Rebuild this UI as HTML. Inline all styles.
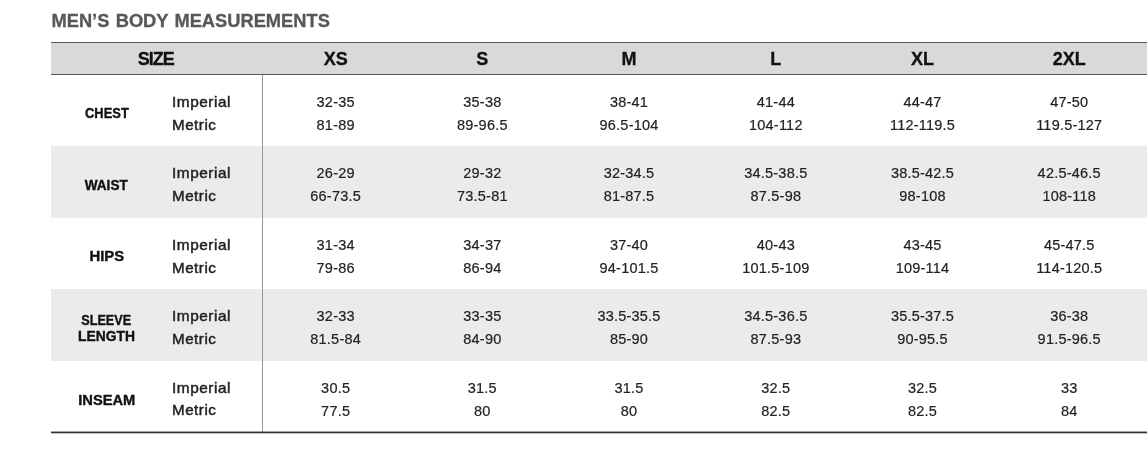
<!DOCTYPE html>
<html><head><meta charset="utf-8"><title>Men's Body Measurements</title>
<style>
html,body{margin:0;padding:0;background:#fff;}
body{width:1147px;height:454px;overflow:hidden;position:relative;font-family:"Liberation Sans",sans-serif;color:#222;}
.title{-webkit-text-stroke:0.3px #585858;word-spacing:1.2px;position:absolute;left:51.5px;top:9.5px;font-size:18.3px;font-weight:bold;color:#585858;line-height:22px;white-space:nowrap;letter-spacing:0.0px;}
.hdr{position:absolute;left:51px;top:42px;width:1100px;height:31px;background:#d9d9d9;border-top:1px solid #555;border-bottom:1px solid #555;}
.hdr div{-webkit-text-stroke:0.3px #111;position:absolute;top:1px;height:31px;line-height:31px;font-weight:bold;font-size:18px;color:#111;text-align:center;}
.hdr .sz{letter-spacing:-1px;}
.row{position:absolute;left:51px;width:1100px;height:71.4px;}
.row.g{background:#ebebeb;}
.lab{-webkit-text-stroke:0.4px #111;position:absolute;left:0.5px;width:110px;top:3.1px;height:71.4px;display:flex;flex-direction:column;align-items:center;justify-content:center;text-align:center;font-weight:bold;font-size:15.3px;line-height:16px;color:#111;}
.lab span{display:block;transform-origin:50% 50%;white-space:nowrap;}
.unit{-webkit-text-stroke:0.45px #222;position:absolute;left:121px;top:16px;font-size:14.5px;line-height:22.7px;color:#222;}
.unit span{display:block;transform-origin:0 50%;white-space:nowrap;letter-spacing:0.5px;}
.val{-webkit-text-stroke:0.2px #222;position:absolute;top:16px;width:146.72px;text-align:center;font-size:14.5px;line-height:23px;color:#222;letter-spacing:0.22px;}
.vline{position:absolute;left:262px;top:75px;width:1px;height:357px;background:#969696;}
.bline{position:absolute;left:51px;top:431px;width:1100px;height:3px;background:linear-gradient(to bottom,rgba(51,51,51,0.45) 0,rgba(51,51,51,0.45) 1px,#333 1px,#333 2px,rgba(51,51,51,0.3) 2px,rgba(51,51,51,0.3) 3px);}
.wrap{position:absolute;left:0;top:0;width:1147px;height:454px;will-change:transform;}
</style></head><body><div class="wrap">
<div class="title">MEN’S BODY MEASUREMENTS</div>
<div class="hdr"><div class="sz" style="left:-0.8px;width:211px">SIZE</div><div style="left:211.3px;width:146.72px">XS</div><div style="left:358.0px;width:146.72px">S</div><div style="left:504.7px;width:146.72px">M</div><div style="left:651.5px;width:146.72px">L</div><div style="left:798.2px;width:146.72px">XL</div><div style="left:944.9px;width:146.72px">2XL</div></div>
<div class="row" style="top:75.0px"><div class="lab" style="margin-top:-0.7px"><span style="transform:scaleX(0.845)">CHEST</span></div><div class="unit"><span style="transform:scaleX(1.06);margin-left:-0.3px">Imperial</span><span style="transform:scaleX(1.045);margin-left:-0.3px">Metric</span></div><div class="val" style="left:211.3px">32-35<br>81-89</div><div class="val" style="left:358.0px">35-38<br>89-96.5</div><div class="val" style="left:504.7px">38-41<br>96.5-104</div><div class="val" style="left:651.5px">41-44<br>104-112</div><div class="val" style="left:798.2px">44-47<br>112-119.5</div><div class="val" style="left:944.9px">47-50<br>119.5-127</div></div>
<div class="row g" style="top:146.4px"><div class="lab" style="margin-top:0px"><span style="transform:scaleX(0.89)">WAIST</span></div><div class="unit"><span style="transform:scaleX(1.06);margin-left:-0.3px">Imperial</span><span style="transform:scaleX(1.045);margin-left:-0.3px">Metric</span></div><div class="val" style="left:211.3px">26-29<br>66-73.5</div><div class="val" style="left:358.0px">29-32<br>73.5-81</div><div class="val" style="left:504.7px">32-34.5<br>81-87.5</div><div class="val" style="left:651.5px">34.5-38.5<br>87.5-98</div><div class="val" style="left:798.2px">38.5-42.5<br>98-108</div><div class="val" style="left:944.9px">42.5-46.5<br>108-118</div></div>
<div class="row" style="top:217.8px"><div class="lab" style="margin-top:-0.3px"><span style="transform:scaleX(0.97)">HIPS</span></div><div class="unit"><span style="transform:scaleX(1.06);margin-left:-0.3px">Imperial</span><span style="transform:scaleX(1.045);margin-left:-0.3px">Metric</span></div><div class="val" style="left:211.3px">31-34<br>79-86</div><div class="val" style="left:358.0px">34-37<br>86-94</div><div class="val" style="left:504.7px">37-40<br>94-101.5</div><div class="val" style="left:651.5px">40-43<br>101.5-109</div><div class="val" style="left:798.2px">43-45<br>109-114</div><div class="val" style="left:944.9px">45-47.5<br>114-120.5</div></div>
<div class="row g" style="top:289.2px"><div class="lab" style="margin-top:0px"><span style="transform:scaleX(0.824)">SLEEVE</span><span style="transform:scaleX(0.906)">LENGTH</span></div><div class="unit"><span style="transform:scaleX(1.06);margin-left:-0.3px">Imperial</span><span style="transform:scaleX(1.045);margin-left:-0.3px">Metric</span></div><div class="val" style="left:211.3px">32-33<br>81.5-84</div><div class="val" style="left:358.0px">33-35<br>84-90</div><div class="val" style="left:504.7px">33.5-35.5<br>85-90</div><div class="val" style="left:651.5px">34.5-36.5<br>87.5-93</div><div class="val" style="left:798.2px">35.5-37.5<br>90-95.5</div><div class="val" style="left:944.9px">36-38<br>91.5-96.5</div></div>
<div class="row" style="top:360.6px"><div class="lab" style="margin-top:0.9px"><span style="transform:scaleX(0.96)">INSEAM</span></div><div class="unit"><span style="transform:scaleX(1.06);margin-left:-0.3px">Imperial</span><span style="transform:scaleX(1.045);margin-left:-0.3px">Metric</span></div><div class="val" style="left:211.3px">30.5<br>77.5</div><div class="val" style="left:358.0px">31.5<br>80</div><div class="val" style="left:504.7px">31.5<br>80</div><div class="val" style="left:651.5px">32.5<br>82.5</div><div class="val" style="left:798.2px">32.5<br>82.5</div><div class="val" style="left:944.9px">33<br>84</div></div>
<div class="vline"></div><div class="bline"></div>
</div></body></html>
